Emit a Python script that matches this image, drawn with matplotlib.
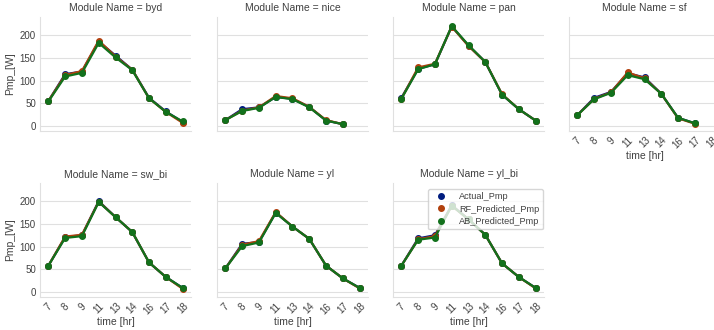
import numpy as np
import matplotlib
matplotlib.use("Agg")
import matplotlib.pyplot as plt
from matplotlib.lines import Line2D
import seaborn as sns

sns.set_style("whitegrid")
plt.rcParams["font.family"] = ["Liberation Sans", "DejaVu Sans"]

hours = ["7", "8", "9", "11", "13", "14", "16", "17", "18"]
modules = ["byd", "nice", "pan", "sf", "sw_bi", "yl", "yl_bi"]
nan = np.nan

actual_pmp = {
    "byd":   [55, 114, 120, 186, 155, 124, 62, 32, 9],
    "nice":  [13, 37, 41, 64, 60, 42, 12, 4, nan],
    "pan":   [62, 126, 136, 219, 177, 141, 69, 37, 12],
    "sf":    [24, 62, 75, 116, 107, 71, 18, 6, nan],
    "sw_bi": [58, 121, 125, 200, 165, 132, 65, 33, 9],
    "yl":    [52, 106, 110, 175, 144, 117, 58, 30, 9],
    "yl_bi": [58, 118, 125, 191, 160, 126, 63, 33, 9],
}
rf_predicted_pmp = {
    "byd":   [55, 112, 121, 188, 153, 124, 61, 31, 7],
    "nice":  [13, 34, 41, 66, 61, 42, 13, 4, nan],
    "pan":   [60, 129, 137, 219, 176, 141, 70, 37, 12],
    "sf":    [24, 60, 74, 118, 105, 71, 17, 5, nan],
    "sw_bi": [58, 122, 126, 199, 165, 132, 65, 33, 7],
    "yl":    [52, 104, 112, 176, 144, 117, 58, 30, 8],
    "yl_bi": [58, 116, 123, 190, 160, 126, 63, 33, 8],
}
ab_predicted_pmp = {
    "byd":   [54, 109, 117, 183, 151, 123, 61, 31, 10],
    "nice":  [13, 33, 40, 64, 59, 41, 12, 4, nan],
    "pan":   [60, 125, 136, 220, 178, 141, 69, 37, 12],
    "sf":    [24, 59, 73, 112, 103, 71, 18, 6, nan],
    "sw_bi": [58, 119, 123, 198, 165, 132, 65, 33, 9],
    "yl":    [52, 101, 109, 174, 144, 117, 58, 30, 9],
    "yl_bi": [58, 115, 120, 190, 160, 126, 63, 33, 9],
}
series_names = ["Actual_Pmp", "RF_Predicted_Pmp", "AB_Predicted_Pmp"]
series_data = [actual_pmp, rf_predicted_pmp, ab_predicted_pmp]
colors = sns.color_palette("dark", 3)

W, H = 714, 330
fig = plt.figure(figsize=(W / 100, H / 100), dpi=100)

col_left = [40, 217, 393, 569]
row_top = [17, 183]
aw, ah = 151, 114

x = np.arange(len(hours))
axes = []
for i, mod in enumerate(modules):
    r, c = divmod(i, 4)
    rect = [col_left[c] / W, (H - row_top[r] - ah) / H, aw / W, ah / H]
    ax = fig.add_axes(rect)
    axes.append(ax)
    for name, data, col in zip(series_names, series_data, colors):
        ax.plot(x, data[mod], color=col, lw=1.6, marker="o", ms=4,
                label=name)
    ax.set_xlim(-0.5, len(hours) - 0.5)
    ax.set_ylim(-11, 240)
    ax.set_yticks([0, 50, 100, 150, 200])
    ax.set_xticks(x)
    ax.grid(axis="x", visible=False)
    ax.grid(axis="y", color=".88", lw=0.8)
    for s in ["top", "right"]:
        ax.spines[s].set_visible(False)
    for s in ["left", "bottom"]:
        ax.spines[s].set_color(".88")
        ax.spines[s].set_linewidth(0.8)
    ax.tick_params(length=0, labelsize=7, colors=".25", pad=3)
    ax.set_title(f"Module Name = {mod}", fontsize=7.5, color=".25", pad=4)
    bottom_shown = (r == 1) or (c == 3)
    if bottom_shown:
        ax.set_xticklabels(hours, rotation=45, ha="center")
        ax.set_xlabel("time [hr]", fontsize=7.5, color=".25", labelpad=1)
    else:
        ax.set_xticklabels([])
    if c == 0:
        ax.set_ylabel("Pmp_[W]", fontsize=7.5, color=".25", labelpad=3)
    else:
        ax.set_yticklabels([])

handles = [Line2D([], [], ls="none", marker="o", ms=4, color=col)
           for col in colors]
axes[-1].legend(handles, series_names, loc="upper left",
                bbox_to_anchor=(0.2, 0.99), fontsize=6.6, frameon=True,
                handletextpad=1.0, borderpad=0.4, labelspacing=0.35,
                labelcolor=".25")

fig.savefig("out.png", dpi=100)
